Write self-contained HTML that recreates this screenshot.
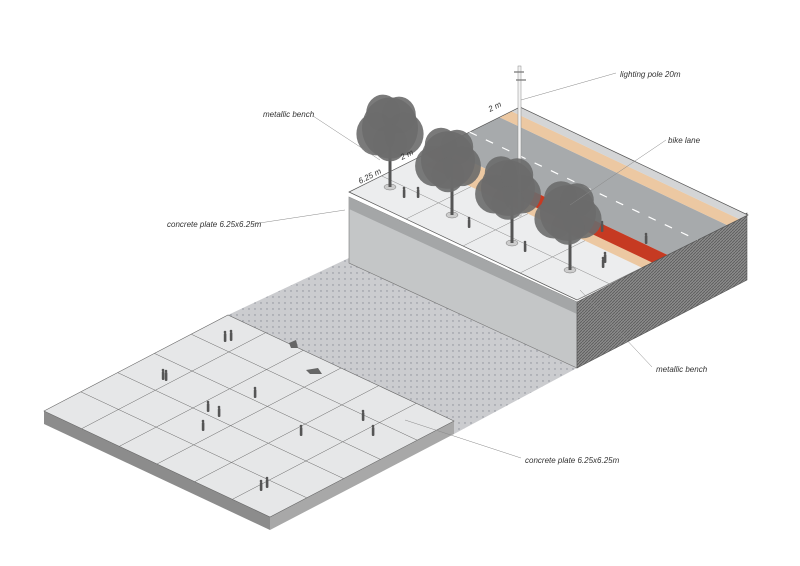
<!DOCTYPE html>
<html><head><meta charset="utf-8"><style>
html,body{margin:0;padding:0;background:#fff;width:800px;height:566px;overflow:hidden}
svg{display:block}
text{font-family:"Liberation Sans",sans-serif;font-style:italic;font-size:8px;fill:#333}
</style></head><body>
<svg id="s" width="800" height="566" viewBox="0 0 800 566" xmlns="http://www.w3.org/2000/svg">
<defs>
<pattern id="dots" width="6" height="6" patternUnits="userSpaceOnUse"><rect width="6" height="6" fill="#cbcccf"/><circle cx="3" cy="3" r="0.7" fill="#8a8d96"/></pattern>
<pattern id="hatch" width="3" height="3" patternUnits="userSpaceOnUse"><rect width="3" height="3" fill="#8a8a8a"/><path d="M0 3L3 0" stroke="#5a5a5a" stroke-width="0.8"/></pattern>
</defs>
<polygon points="228,315 349,258 577,368 454,434 454,421" fill="url(#dots)"/>
<polygon points="349,197 577,302 577,368 349,263" fill="#c4c6c7" stroke="#777" stroke-width="0.6"/>
<polygon points="349,197 577,302 577,314 349,209" fill="#a4a6a7"/>
<polygon points="577,302 747,213 747,280 577,368" fill="url(#hatch)" stroke="#555" stroke-width="0.6"/>
<g id="top"></g>
<polygon points="44,411 270,517 270,530 44,424" fill="#8c8c8c"/>
<polygon points="270,517 454,421 454,434 270,530" fill="#a8a8a8"/>
<polygon points="44,411 228,315 454,421 270,517" fill="#e6e7e8" stroke="#666" stroke-width="0.6"/>
<g id="grid" stroke="#666" stroke-width="0.5"></g>
<g id="people" fill="#555"></g>
<rect x="518" y="66" width="3" height="150" fill="#f2f2f2" stroke="#888" stroke-width="0.5"/>
<path d="M514 72h10M516 80h10" stroke="#777" stroke-width="1.2"/>
<g id="trees"></g>
<g stroke="#888" stroke-width="0.5" fill="none">
<path d="M616 73 L521 100"/>
<path d="M313 116 L380 160"/>
<path d="M666 140 L570 205"/>
<path d="M253 224 L345 210"/>
<path d="M652 367 L580 290"/>
<path d="M521 458 L405 420"/>
</g>
<text x="620" y="77">lighting pole 20m</text>
<text x="263" y="117">metallic bench</text>
<text x="668" y="143">bike lane</text>
<text x="167" y="227">concrete plate 6.25x6.25m</text>
<text x="656" y="372">metallic bench</text>
<text x="525" y="463">concrete plate 6.25x6.25m</text>
<text x="360" y="184" font-size="6" transform="rotate(-27 360 184)">6.25 m</text>
<text x="402" y="160" font-size="6" transform="rotate(-27 402 160)">2 m</text>
<text x="490" y="112" font-size="6" transform="rotate(-27 490 112)">2 m</text>
</svg>
<script>
var NS="http://www.w3.org/2000/svg";
function P(u,v){return [349+228*u+171*v,192+108*u-85*v];}
function poly(g,pts,fill,extra){var e=document.createElementNS(NS,"polygon");e.setAttribute("points",pts.map(p=>p.join(",")).join(" "));e.setAttribute("fill",fill);if(extra)for(var k in extra)e.setAttribute(k,extra[k]);g.appendChild(e);}
function strip(g,u0,u1,v0,v1,c){poly(g,[P(u0,v0),P(u1,v0),P(u1,v1),P(u0,v1)],c);}
function line(g,a,b,st,w,dash){var e=document.createElementNS(NS,"line");e.setAttribute("x1",a[0]);e.setAttribute("y1",a[1]);e.setAttribute("x2",b[0]);e.setAttribute("y2",b[1]);e.setAttribute("stroke",st);e.setAttribute("stroke-width",w);if(dash)e.setAttribute("stroke-dasharray",dash);g.appendChild(e);}
var t=document.getElementById("top");
strip(t,0,1,0,1,"#ecedee");
strip(t,0.05,1,0.38,0.44,"#ecc8a2");
strip(t,0,1,0.53,0.88,"#a7aaac");
strip(t,0.25,1,0.44,0.53,"#c63a22");
strip(t,0,0.25,0.44,0.53,"#ecc8a2");
strip(t,0,1,0.88,0.95,"#ecc8a2");
strip(t,0,1,0.95,1,"#d4d5d6");
poly(t,[P(0,0),P(1,0),P(1,1),P(0,1)],"none",{stroke:"#555","stroke-width":"0.7"});
for(var i=1;i<5;i++){line(t,P(i*0.25,0),P(i*0.25,0.38),"#888",0.5);}
line(t,P(0,0.19),P(1,0.19),"#888",0.5);
line(t,P(0,0.705),P(1,0.705),"#fff",1.2,"8 10");
var g=document.getElementById("grid");
var L=[44,411],T=[228,315],R=[454,421],F=[270,517];
function lerp(a,b,s){return [a[0]+(b[0]-a[0])*s,a[1]+(b[1]-a[1])*s];}
for(var i=1;i<6;i++){var s=i/6;line(g,lerp(L,F,s),lerp(T,R,s),"#666",0.5);}
for(var i=1;i<5;i++){var s=i/5;line(g,lerp(L,T,s),lerp(F,R,s),"#666",0.5);}
var pp=document.getElementById("people");
[[225,342],[231,341],[163,380],[166,381],[255,398],[208,412],[219,417],[203,431],[363,421],[373,436],[301,436],[261,491],[267,488],[404,198],[418,198],[469,228],[525,252],[602,232],[605,263],[646,244],[603,268]].forEach(function(p){
var e=document.createElementNS(NS,"rect");e.setAttribute("x",p[0]-1.2);e.setAttribute("y",p[1]-9);e.setAttribute("width",2.6);e.setAttribute("height",9);e.setAttribute("rx",1);pp.appendChild(e);
var c=document.createElementNS(NS,"circle");c.setAttribute("cx",p[0]);c.setAttribute("cy",p[1]-10);c.setAttribute("r",1.3);pp.appendChild(c);});
poly(pp,[[306,370],[318,368],[322,374],[310,374]],"#666");
poly(pp,[[289,343],[296,340],[298,348],[291,348]],"#666");
var tr=document.getElementById("trees");
[[390,187,390,128,28,34],[452,215,448,160,27,32],[512,243,508,188,27,31],[570,270,568,213,28,31]].forEach(function(d){
var el=document.createElementNS(NS,"ellipse");el.setAttribute("cx",d[0]);el.setAttribute("cy",d[1]);el.setAttribute("rx",6);el.setAttribute("ry",3);el.setAttribute("fill","#ccc");el.setAttribute("stroke","#777");el.setAttribute("stroke-width","0.5");tr.appendChild(el);
var tk=document.createElementNS(NS,"rect");tk.setAttribute("x",d[0]-1.5);tk.setAttribute("y",d[3]);tk.setAttribute("width",3);tk.setAttribute("height",d[1]-d[3]);tk.setAttribute("fill","#555");tr.appendChild(tk);
[[0,0,1],[-14,6,0.7],[14,6,0.7],[-7,-15,0.6],[9,-13,0.6],[0,15,0.6]].forEach(function(o){
var c=document.createElementNS(NS,"ellipse");c.setAttribute("cx",d[2]+o[0]);c.setAttribute("cy",d[3]+o[1]);c.setAttribute("rx",d[4]*o[2]);c.setAttribute("ry",d[5]*o[2]*0.9);c.setAttribute("fill","#6b6b6b");c.setAttribute("opacity","0.9");tr.appendChild(c);});
});
</script>
</body></html>
